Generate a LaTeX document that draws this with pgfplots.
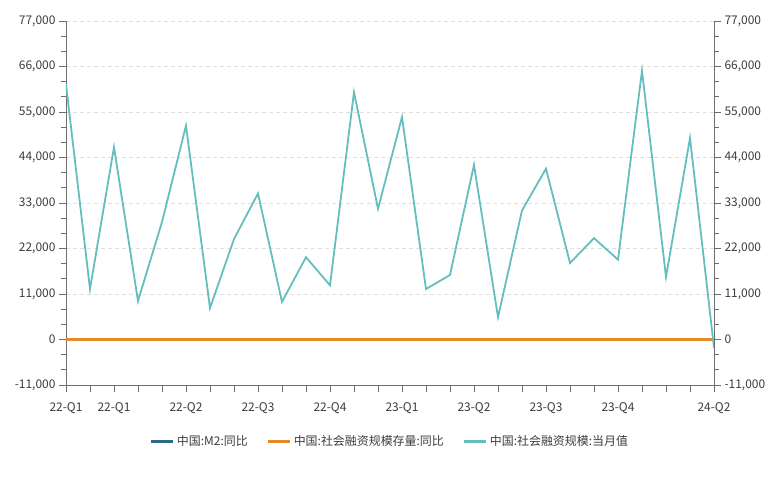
\documentclass[border=0pt]{standalone}
\usepackage{pgfplots}
\pgfplotsset{compat=1.18}
\usepackage{fontspec}
\setmainfont{Noto Sans CJK SC}

\definecolor{m2blue}{RGB}{46,104,138}
\definecolor{stockorange}{RGB}{232,137,40}
\definecolor{flowteal}{RGB}{100,190,190}
\definecolor{axisgray}{RGB}{110,110,110}
\definecolor{labelgray}{RGB}{60,60,60}
\definecolor{gridgray}{RGB}{222,222,222}

% month index 0 = 2022-01 ... 27 = 2024-04
\pgfplotstableread{
x m2 stock flow
0  9.8 10.5 61700
1  9.2 10.2 12200
2  9.7 10.6 46500
3  10.5 10.2 9300
4  11.1 10.5 28400
5  11.4 10.8 51700
6  12.0 10.7 7600
7  12.2 10.5 24300
8  12.1 10.6 35300
9  11.8 10.3 9100
10 12.4 10.0 19900
11 11.8 9.6 13100
12 12.6 9.4 59800
13 12.9 9.9 31600
14 12.7 10.0 53800
15 12.4 10.0 12200
16 11.6 9.5 15600
17 11.3 9.0 42200
18 10.7 8.9 5400
19 10.6 9.0 31200
20 10.3 9.0 41300
21 10.3 9.3 18500
22 10.0 9.4 24500
23 9.7 9.5 19300
24 8.7 9.5 65000
25 8.7 9.0 15100
26 8.3 8.7 48700
27 7.2 8.3 -2000
}\datatable

\pgfplotsset{
  common/.style={
    scale only axis, width=648bp, height=364bp,
    xmin=0, xmax=27, ymin=-11000, ymax=77000,
    ytick={-11000,0,...,77000}, minor y tick num=2,
    scaled y ticks=false,
    yticklabel style={/pgf/number format/.cd, fixed, 1000 sep={,}, assume math mode=true},
    tick label style={font=\fontsize{12}{14}\selectfont, text=labelgray},
    axis line style={axisgray, line width=0.8bp},
    tick style={axisgray, line width=0.8bp},
    major tick length=7bp, minor tick length=5bp,
    tick align=outside,
  }
}

\begin{document}
\begin{tikzpicture}
\path[use as bounding box] (-66bp,-97bp) rectangle (714bp,385bp);
\begin{axis}[common,
  axis x line*=bottom, axis y line*=left,
  xtick={0,...,27},
  xticklabels={22-Q1,{},22-Q1,{},{},22-Q2,{},{},22-Q3,{},{},22-Q4,{},{},23-Q1,{},{},23-Q2,{},{},23-Q3,{},{},23-Q4,{},{},{},24-Q2},
  xticklabel style={yshift=-7bp},
  ymajorgrids, grid style={gridgray, dash pattern=on 4bp off 3bp, line width=0.7bp},
  legend style={at={(axis description cs:0.5,-0.154)}, anchor=center, draw=none, fill=none,
    font=\fontsize{12}{14}\selectfont, text=labelgray, legend columns=3,
    /tikz/every even column/.append style={column sep=17bp}},
  legend image code/.code={\draw[#1, line width=3bp] (0bp,0bp) -- (22bp,0bp);},
]
\addplot[m2blue, line width=2bp] table[x=x, y=m2] {\datatable};
\addlegendentry{中国:M2:同比}
\addplot[stockorange, line width=2.6bp] table[x=x, y=stock] {\datatable};
\addlegendentry{中国:社会融资规模存量:同比}
\addplot[flowteal, line width=1.8bp] table[x=x, y=flow] {\datatable};
\addlegendentry{中国:社会融资规模:当月值}
\end{axis}
\begin{axis}[common,
  axis x line=none, axis y line*=right,
]
\addplot[draw=none] coordinates {(0,0)};
\end{axis}
\end{tikzpicture}
\end{document}
